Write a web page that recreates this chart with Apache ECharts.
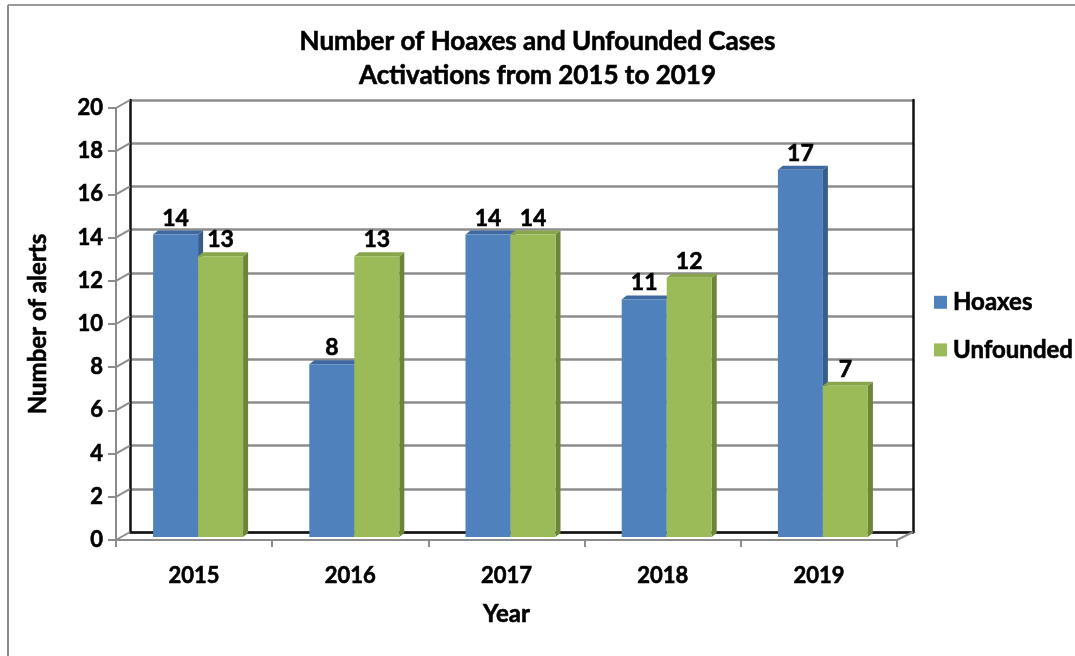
<!DOCTYPE html>
<html>
<head>
<meta charset="utf-8">
<script src="https://cdn.jsdelivr.net/npm/echarts@6/dist/echarts.min.js"></script>
<style>
html,body{margin:0;padding:0;background:#fff;}
#chart{width:1075px;height:656px;}
</style>
</head>
<body>
<div id="chart"></div>
<script>
const years = ['2015', '2016', '2017', '2018', '2019'];
const hoaxes = [14, 8, 14, 11, 17];
const unfounded = [13, 13, 14, 12, 7];
const yTicks = [0, 2, 4, 6, 8, 10, 12, 14, 16, 18, 20];

const FONT = 'Lato';
const BAR_W = 45;
const DX = 5, DY = -4;          // bar depth
const WX = 14, WY = -8;         // wall depth
const GRAY = '#8c8c8c';

const chart = echarts.init(document.getElementById('chart'));

function barFaces(sideColor, topColor, isFirst) {
  return function (params, api) {
    const i = api.value(0), v = api.value(1);
    const top = api.coord([i, v]);
    const base = api.coord([i, 0]);
    const cx = top[0];
    const x0 = isFirst ? cx - BAR_W : cx;
    const x1 = x0 + BAR_W;
    const yt = top[1], yb = base[1];
    return {
      type: 'group',
      children: [
        { type: 'polygon', shape: { points: [[x1, yt], [x1 + DX, yt + DY], [x1 + DX, yb + DY], [x1, yb]] }, style: { fill: sideColor } },
        { type: 'polygon', shape: { points: [[x0, yt], [x0 + DX, yt + DY], [x1 + DX, yt + DY], [x1, yt]] }, style: { fill: topColor } }
      ]
    };
  };
}

const boldText = (size) => ({
  fontFamily: FONT, fontWeight: 'bold', fontSize: size, color: '#000',
  textBorderColor: '#000', textBorderWidth: 0.6
});

const option = {
  backgroundColor: '#fff',
  animation: false,
  textStyle: { fontFamily: FONT },
  title: {
    text: 'Number of Hoaxes and Unfounded Cases\nActivations from 2015 to 2019',
    left: 'center', top: 20,
    textStyle: Object.assign(boldText(26), { lineHeight: 34 })
  },
  legend: {
    orient: 'vertical', left: 929, top: 285,
    itemWidth: 13, itemHeight: 13, itemGap: 23, icon: 'rect',
    data: ['Hoaxes', 'Unfounded'],
    textStyle: Object.assign(boldText(24), { padding: [0, 0, 0, 1] })
  },
  graphic: [
    { type: 'line', shape: { x1: 8, y1: 5, x2: 1075, y2: 5 }, style: { stroke: '#9a9a9a', lineWidth: 2 } },
    { type: 'line', shape: { x1: 8, y1: 5, x2: 8, y2: 656 }, style: { stroke: '#8a8a8a', lineWidth: 2 } }
  ],
  grid: [
    { left: 116, right: 178, top: 108, bottom: 116 },   // front
    { left: 120, right: 174, top: 105, bottom: 119 },   // bars
    { left: 130, right: 162, top: 100, bottom: 124 }    // back wall
  ],
  xAxis: [
    {
      gridIndex: 0, type: 'category', data: years,
      axisLine: { lineStyle: { color: GRAY, width: 2 } },
      axisTick: { show: true, interval: 0, length: 7, lineStyle: { color: GRAY, width: 2 } },
      axisLabel: Object.assign(boldText(22), { margin: 25 }),
      name: 'Year', nameLocation: 'middle', nameGap: 62,
      nameTextStyle: boldText(24)
    },
    { gridIndex: 1, type: 'category', data: years, show: false },
    {
      gridIndex: 2, type: 'category', data: years,
      axisLine: { show: true, lineStyle: { color: '#111', width: 2.5 } },
      axisTick: { show: false }, axisLabel: { show: false }
    }
  ],
  yAxis: [
    {
      gridIndex: 0, type: 'value', min: 0, max: 20, interval: 2,
      axisLine: { show: true, lineStyle: { color: GRAY, width: 2 } },
      axisTick: { show: true, length: 8, lineStyle: { color: GRAY, width: 2 } },
      splitLine: { show: false },
      axisLabel: Object.assign(boldText(22), { margin: 13 }),
      name: 'Number of alerts', nameLocation: 'middle', nameGap: 66, nameRotate: 90,
      nameTextStyle: boldText(24)
    },
    { gridIndex: 1, type: 'value', min: 0, max: 20, interval: 2, show: false },
    {
      gridIndex: 2, type: 'value', min: 0, max: 20, interval: 2,
      axisLine: { show: true, lineStyle: { color: '#111', width: 2.5 } },
      axisTick: { show: false }, axisLabel: { show: false },
      splitLine: { show: true, lineStyle: { color: GRAY, width: 2.5 } }
    },
    {
      gridIndex: 2, type: 'value', min: 0, max: 20, interval: 2, position: 'right',
      axisLine: { show: true, lineStyle: { color: '#111', width: 2.5 } },
      axisTick: { show: false }, axisLabel: { show: false }, splitLine: { show: false }
    }
  ],
  series: [
    {
      type: 'custom', name: 'wallDiag', xAxisIndex: 0, yAxisIndex: 0, silent: true, z: 1,
      data: yTicks.map(v => [0, v]),
      renderItem: function (params, api) {
        const v = api.value(1);
        const y = api.coord([0, v])[1];
        const cs = params.coordSys;
        const children = [
          { type: 'line', shape: { x1: cs.x, y1: y, x2: cs.x + WX, y2: y + WY }, style: { stroke: GRAY, lineWidth: 2 } }
        ];
        if (v === 0) {
          children.push({ type: 'line', shape: { x1: cs.x + cs.width, y1: y, x2: cs.x + cs.width + WX + 2, y2: y + WY }, style: { stroke: GRAY, lineWidth: 2 } });
        }
        return { type: 'group', children: children };
      }
    },
    {
      type: 'custom', name: 'hoaxFaces', xAxisIndex: 1, yAxisIndex: 1, silent: true, z: 3,
      data: hoaxes.map((v, i) => [i, v]),
      renderItem: barFaces('#385D8A', '#3F69A0', true)
    },
    {
      type: 'custom', name: 'unfFaces', xAxisIndex: 1, yAxisIndex: 1, silent: true, z: 3,
      data: unfounded.map((v, i) => [i, v]),
      renderItem: barFaces('#6B8539', '#87A64B', false)
    },
    {
      type: 'bar', name: 'Hoaxes', xAxisIndex: 1, yAxisIndex: 1, data: hoaxes, z: 4,
      barWidth: BAR_W, barGap: '0%',
      itemStyle: { color: '#4F81BD' },
      label: Object.assign(boldText(23), { show: true, position: 'top', distance: 5 })
    },
    {
      type: 'bar', name: 'Unfounded', xAxisIndex: 1, yAxisIndex: 1, data: unfounded, z: 4,
      barWidth: BAR_W, barGap: '0%',
      itemStyle: { color: '#9BBB59' },
      label: Object.assign(boldText(23), { show: true, position: 'top', distance: 5 })
    }
  ]
};
chart.setOption(option);
</script>
</body>
</html>
